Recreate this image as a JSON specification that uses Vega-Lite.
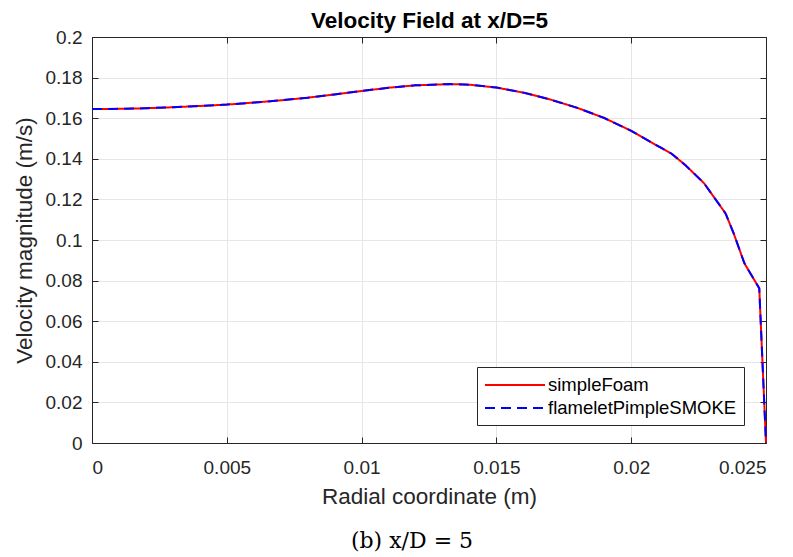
{
  "$schema": "https://vega.github.io/schema/vega-lite/v6.json",
  "width": 674,
  "height": 406,
  "autosize": {"type": "none"},
  "padding": {"left": 92, "top": 37, "right": 27, "bottom": 114},
  "background": "white",
  "title": {"text": "(b) x/D = 5", "orient": "bottom", "anchor": "middle", "frame": "group", "font": "DejaVu Serif", "fontSize": 22, "fontWeight": "normal", "color": "black", "offset": 23, "dx": -17},
  "config": {
    "view": {"stroke": null},
    "font": "Liberation Sans",
    "axis": {
      "domainColor": "#262626",
      "domainWidth": 1,
      "tickColor": "#262626",
      "tickSize": -6,
      "labelFont": "Liberation Sans",
      "labelFontSize": 19,
      "labelColor": "#262626",
      "titleFont": "Liberation Sans",
      "titleFontSize": 22.5,
      "titleFontWeight": "normal",
      "titleColor": "#262626",
      "gridColor": "#e6e6e6",
      "gridWidth": 1
    }
  },
  "data": {
    "values": [
      {"r": 0.0, "simpleFoam": 0.1645, "flameletPimpleSMOKE": 0.1645},
      {"r": 0.001, "simpleFoam": 0.1646, "flameletPimpleSMOKE": 0.1646},
      {"r": 0.002, "simpleFoam": 0.1649, "flameletPimpleSMOKE": 0.1649},
      {"r": 0.003, "simpleFoam": 0.1654, "flameletPimpleSMOKE": 0.1654},
      {"r": 0.004, "simpleFoam": 0.166, "flameletPimpleSMOKE": 0.166},
      {"r": 0.005, "simpleFoam": 0.1667, "flameletPimpleSMOKE": 0.1667},
      {"r": 0.006, "simpleFoam": 0.1677, "flameletPimpleSMOKE": 0.1677},
      {"r": 0.007, "simpleFoam": 0.1688, "flameletPimpleSMOKE": 0.1688},
      {"r": 0.008, "simpleFoam": 0.1701, "flameletPimpleSMOKE": 0.1701},
      {"r": 0.009, "simpleFoam": 0.1717, "flameletPimpleSMOKE": 0.1717},
      {"r": 0.01, "simpleFoam": 0.1734, "flameletPimpleSMOKE": 0.1734},
      {"r": 0.011, "simpleFoam": 0.175, "flameletPimpleSMOKE": 0.175},
      {"r": 0.012, "simpleFoam": 0.1762, "flameletPimpleSMOKE": 0.1762},
      {"r": 0.0133, "simpleFoam": 0.1768, "flameletPimpleSMOKE": 0.1768},
      {"r": 0.014, "simpleFoam": 0.1765, "flameletPimpleSMOKE": 0.1765},
      {"r": 0.015, "simpleFoam": 0.1751, "flameletPimpleSMOKE": 0.1751},
      {"r": 0.016, "simpleFoam": 0.1726, "flameletPimpleSMOKE": 0.1726},
      {"r": 0.017, "simpleFoam": 0.1692, "flameletPimpleSMOKE": 0.1692},
      {"r": 0.018, "simpleFoam": 0.1651, "flameletPimpleSMOKE": 0.1651},
      {"r": 0.019, "simpleFoam": 0.1601, "flameletPimpleSMOKE": 0.1601},
      {"r": 0.02, "simpleFoam": 0.1538, "flameletPimpleSMOKE": 0.1538},
      {"r": 0.021, "simpleFoam": 0.1462, "flameletPimpleSMOKE": 0.1462},
      {"r": 0.0215, "simpleFoam": 0.1425, "flameletPimpleSMOKE": 0.1425},
      {"r": 0.022, "simpleFoam": 0.137, "flameletPimpleSMOKE": 0.137},
      {"r": 0.0227, "simpleFoam": 0.128, "flameletPimpleSMOKE": 0.128},
      {"r": 0.0235, "simpleFoam": 0.1131, "flameletPimpleSMOKE": 0.1131},
      {"r": 0.0238, "simpleFoam": 0.1033, "flameletPimpleSMOKE": 0.1033},
      {"r": 0.0242, "simpleFoam": 0.0885, "flameletPimpleSMOKE": 0.0885},
      {"r": 0.02475, "simpleFoam": 0.0762, "flameletPimpleSMOKE": 0.0762},
      {"r": 0.025, "simpleFoam": 0.0, "flameletPimpleSMOKE": 0.0}
    ]
  },
  "transform": [{"fold": ["simpleFoam", "flameletPimpleSMOKE"], "as": ["series", "v"]}],
  "encoding": {
    "color": {
      "field": "series",
      "type": "nominal",
      "scale": {"domain": ["simpleFoam", "flameletPimpleSMOKE"], "range": ["#ff0000", "#0000ff"]},
      "legend": {
        "orient": "none",
        "legendX": 385,
        "legendY": 330,
        "title": null,
        "strokeColor": "#262626",
        "fillColor": "white",
        "padding": 7,
        "labelFont": "Liberation Sans",
        "labelFontSize": 18.5,
        "labelColor": "black",
        "labelLimit": 400,
        "symbolType": "M-3,0H3",
        "symbolSize": 400,
        "symbolStrokeWidth": 2,
        "symbolOffset": 20,
        "rowPadding": 2,
        "labelOffset": 22
      }
    },
    "strokeDash": {
      "field": "series",
      "type": "nominal",
      "scale": {"domain": ["simpleFoam", "flameletPimpleSMOKE"], "range": [[1, 0], [10, 6]]},
      "legend": {
        "orient": "none",
        "legendX": 385,
        "legendY": 330,
        "title": null,
        "strokeColor": "#262626",
        "fillColor": "white",
        "padding": 7,
        "labelFont": "Liberation Sans",
        "labelFontSize": 18.5,
        "labelColor": "black",
        "labelLimit": 400,
        "symbolType": "M-3,0H3",
        "symbolSize": 400,
        "symbolStrokeWidth": 2,
        "symbolOffset": 20,
        "rowPadding": 2,
        "labelOffset": 22
      }
    }
  },
  "layer": [
    {
      "transform": [{"filter": "datum.series === 'simpleFoam'"}],
      "mark": {"type": "line", "strokeWidth": 2},
      "encoding": {
        "x": {
          "field": "r", "type": "quantitative",
          "scale": {"domain": [0, 0.025], "nice": false, "zero": false},
          "axis": {"orient": "bottom", "title": "Radial coordinate (m)", "values": [0, 0.005, 0.01, 0.015, 0.02, 0.025], "format": ".3~f", "grid": true, "labelPadding": 21, "titlePadding": 8}
        },
        "y": {
          "field": "v", "type": "quantitative",
          "scale": {"domain": [0, 0.2], "nice": false, "zero": false},
          "axis": {"orient": "left", "title": "Velocity magnitude (m/s)", "values": [0, 0.02, 0.04, 0.06, 0.08, 0.1, 0.12, 0.14, 0.16, 0.18, 0.2], "format": ".2~f", "grid": true, "labelPadding": 16, "titlePadding": 9}
        }
      }
    },
    {
      "transform": [{"filter": "datum.series === 'flameletPimpleSMOKE'"}],
      "mark": {"type": "line", "strokeWidth": 2},
      "encoding": {
        "x": {
          "field": "r", "type": "quantitative",
          "scale": {"domain": [0, 0.025], "nice": false, "zero": false},
          "axis": {"orient": "top", "title": "Velocity Field at x/D=5", "titleFontWeight": "bold", "titleColor": "black", "titleFontSize": 22.5, "values": [0, 0.005, 0.01, 0.015, 0.02, 0.025], "labels": false, "grid": false, "titlePadding": 4}
        },
        "y": {
          "field": "v", "type": "quantitative",
          "scale": {"domain": [0, 0.2], "nice": false, "zero": false},
          "axis": {"orient": "right", "title": null, "values": [0, 0.02, 0.04, 0.06, 0.08, 0.1, 0.12, 0.14, 0.16, 0.18, 0.2], "labels": false, "grid": false}
        }
      }
    }
  ],
  "resolve": {"axis": {"x": "independent", "y": "independent"}}
}
